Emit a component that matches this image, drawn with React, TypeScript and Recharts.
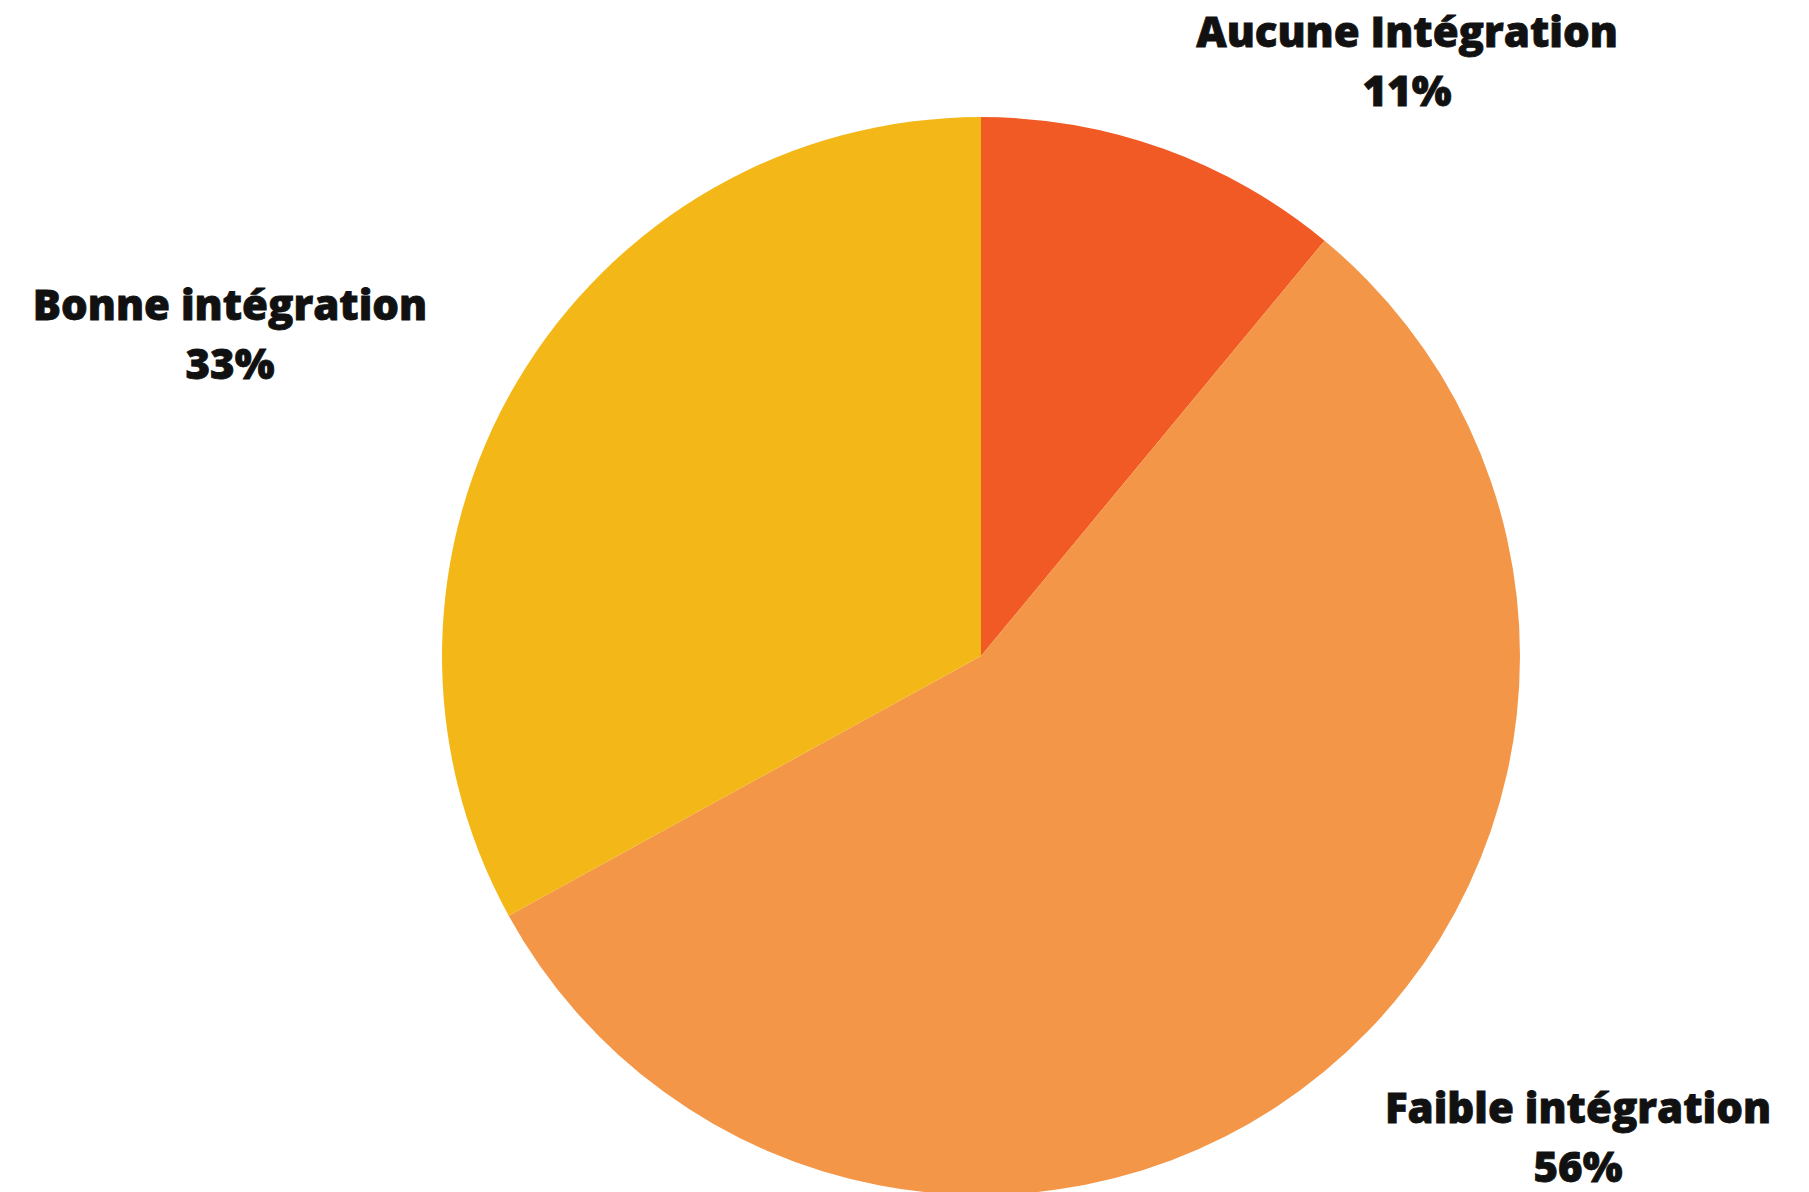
import { PieChart, Pie, Cell } from 'recharts'

const categories = ['Aucune Intégration', 'Faible intégration', 'Bonne intégration']
const shares = [11, 56, 33]
const SLICE_COLORS = ['#F15A24', '#F49647', '#F3B817']

// label anchors, px from the pie centre (first line baseline)
const LABEL_OFFSETS = [
  [426, -609],
  [597, 467],
  [-751, -336],
]

const data = categories.map((name, i) => ({ name, value: shares[i] }))

const renderLabel = (props: any) => {
  const { cx, cy, index, name, value } = props
  const [dx, dy] = LABEL_OFFSETS[index]
  const x = cx + dx
  const y = cy + dy
  return (
    <text
      x={x}
      y={y}
      textAnchor="middle"
      fill="#111111"
      stroke="#111111"
      strokeWidth={0.8}
      style={{ fontFamily: '"Open Sans", sans-serif', fontWeight: 800, fontSize: 42 }}
    >
      <tspan x={x} y={y}>{name}</tspan>
      <tspan x={x} y={y + 59}>{value}%</tspan>
    </text>
  )
}

export default function App() {
  return (
    <div style={{ position: 'absolute', left: 0, top: 0, width: 1809, height: 1192, background: '#ffffff' }}>
      <PieChart width={1809} height={1192} margin={{ top: 0, right: 0, bottom: 0, left: 0 }}>
        <Pie
          data={data}
          dataKey="value"
          nameKey="name"
          cx={981}
          cy={656}
          outerRadius={539}
          startAngle={90}
          endAngle={-270}
          stroke="none"
          labelLine={false}
          label={renderLabel}
          isAnimationActive={false}
        >
          {data.map((entry, i) => (
            <Cell key={entry.name} fill={SLICE_COLORS[i]} />
          ))}
        </Pie>
      </PieChart>
    </div>
  )
}
